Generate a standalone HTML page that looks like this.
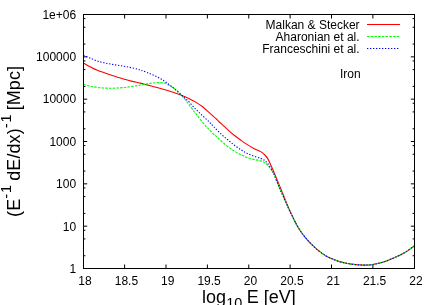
<!DOCTYPE html><html><head><meta charset="utf-8"><style>html,body{margin:0;padding:0;background:#fff;overflow:hidden}svg{display:block;will-change:transform}text{font-family:"Liberation Sans",sans-serif;fill:#000}</style></head><body>
<svg width="435" height="305" viewBox="0 0 435 305">
<rect width="435" height="305" fill="#fff"/>
<path d="M83.50,268.50v-4.0M83.50,14.50v4.0M124.62,268.50v-4.0M124.62,14.50v4.0M166.00,268.50v-4.0M166.00,14.50v4.0M207.38,268.50v-4.0M207.38,14.50v4.0M248.75,268.50v-4.0M248.75,14.50v4.0M290.12,268.50v-4.0M290.12,14.50v4.0M331.50,268.50v-4.0M331.50,14.50v4.0M372.88,268.50v-4.0M372.88,14.50v4.0M414.50,268.50v-4.0M414.50,14.50v4.0M83.50,268.50h3.7M414.50,268.50h-3.7M83.50,255.76h1.9M414.50,255.76h-1.9M83.50,238.91h1.9M414.50,238.91h-1.9M83.50,230.27h1.9M414.50,230.27h-1.9M83.50,226.17h3.7M414.50,226.17h-3.7M83.50,213.42h1.9M414.50,213.42h-1.9M83.50,196.58h1.9M414.50,196.58h-1.9M83.50,187.94h1.9M414.50,187.94h-1.9M83.50,183.83h3.7M414.50,183.83h-3.7M83.50,171.09h1.9M414.50,171.09h-1.9M83.50,154.24h1.9M414.50,154.24h-1.9M83.50,145.60h1.9M414.50,145.60h-1.9M83.50,141.50h3.7M414.50,141.50h-3.7M83.50,128.76h1.9M414.50,128.76h-1.9M83.50,111.91h1.9M414.50,111.91h-1.9M83.50,103.27h1.9M414.50,103.27h-1.9M83.50,99.17h3.7M414.50,99.17h-3.7M83.50,86.42h1.9M414.50,86.42h-1.9M83.50,69.58h1.9M414.50,69.58h-1.9M83.50,60.94h1.9M414.50,60.94h-1.9M83.50,56.83h3.7M414.50,56.83h-3.7M83.50,44.09h1.9M414.50,44.09h-1.9M83.50,27.24h1.9M414.50,27.24h-1.9M83.50,18.60h1.9M414.50,18.60h-1.9M83.50,14.50h3.7M414.50,14.50h-3.7" stroke="#000" stroke-width="1" fill="none"/>
<g fill="none" stroke-width="1.1" stroke-linejoin="round">
<path d="M83.50,63.30C83.65,63.35 83.33,63.05 84.40,63.60C85.47,64.15 87.83,65.53 89.90,66.60C91.97,67.67 94.50,69.00 96.80,70.00C99.10,71.00 101.40,71.77 103.70,72.60C106.00,73.43 108.30,74.23 110.60,75.00C112.90,75.77 115.20,76.50 117.50,77.20C119.80,77.90 122.10,78.55 124.40,79.20C126.70,79.85 129.00,80.52 131.30,81.10C133.60,81.68 136.37,82.28 138.20,82.70C140.03,83.12 140.85,83.23 142.30,83.60C143.75,83.97 144.98,84.38 146.90,84.90C148.82,85.42 151.50,86.10 153.80,86.70C156.10,87.30 158.40,87.87 160.70,88.50C163.00,89.13 165.30,89.80 167.60,90.50C169.90,91.20 172.12,91.88 174.50,92.70C176.88,93.52 179.52,94.45 181.90,95.40C184.28,96.35 186.50,97.28 188.80,98.40C191.10,99.52 193.40,100.70 195.70,102.10C198.00,103.50 200.30,105.02 202.60,106.80C204.90,108.58 207.20,110.77 209.50,112.80C211.80,114.83 214.77,117.47 216.40,119.00C218.03,120.53 218.15,120.90 219.30,122.00C220.45,123.10 221.92,124.33 223.30,125.60C224.68,126.87 225.73,127.95 227.60,129.60C229.47,131.25 232.20,133.67 234.50,135.50C236.80,137.33 239.33,139.12 241.40,140.60C243.47,142.08 244.83,143.10 246.90,144.40C248.97,145.70 251.50,147.20 253.80,148.40C256.10,149.60 258.87,150.50 260.70,151.60C262.53,152.70 263.65,153.87 264.80,155.00C265.95,156.13 266.68,156.90 267.60,158.40C268.52,159.90 269.38,162.03 270.30,164.00C271.22,165.97 272.22,168.17 273.10,170.20C273.98,172.23 274.57,173.70 275.60,176.20C276.63,178.70 278.08,182.23 279.30,185.20C280.52,188.17 281.77,191.22 282.90,194.00C284.03,196.78 285.00,199.23 286.10,201.90C287.20,204.57 288.25,207.18 289.50,210.00C290.75,212.82 292.35,216.23 293.60,218.80C294.85,221.37 295.83,223.33 297.00,225.40C298.17,227.47 299.42,229.43 300.60,231.20C301.78,232.97 302.93,234.50 304.10,236.00C305.27,237.50 306.30,238.75 307.60,240.20C308.90,241.65 310.03,242.92 311.90,244.70C313.77,246.48 316.50,249.07 318.80,250.90C321.10,252.73 323.40,254.33 325.70,255.70C328.00,257.07 330.30,258.12 332.60,259.10C334.90,260.08 337.20,260.90 339.50,261.60C341.80,262.30 344.10,262.83 346.40,263.30C348.70,263.77 351.00,264.13 353.30,264.40C355.60,264.67 358.27,264.78 360.20,264.90C362.13,265.02 362.97,265.13 364.90,265.10C366.83,265.07 369.50,265.00 371.80,264.70C374.10,264.40 376.40,263.88 378.70,263.30C381.00,262.72 383.30,262.02 385.60,261.20C387.90,260.38 390.20,259.37 392.50,258.40C394.80,257.43 397.10,256.53 399.40,255.40C401.70,254.27 404.00,253.05 406.30,251.60C408.60,250.15 411.83,247.67 413.20,246.70C414.57,245.73 414.28,245.95 414.50,245.80" stroke="#ff0000"/>
<path d="M83.50,84.30C83.65,84.33 83.33,84.20 84.40,84.50C85.47,84.80 87.83,85.63 89.90,86.10C91.97,86.57 94.50,86.98 96.80,87.30C99.10,87.62 101.40,87.85 103.70,88.00C106.00,88.15 108.30,88.20 110.60,88.20C112.90,88.20 115.20,88.12 117.50,88.00C119.80,87.88 122.10,87.73 124.40,87.50C126.70,87.27 129.00,86.93 131.30,86.60C133.60,86.27 136.37,85.82 138.20,85.50C140.03,85.18 140.85,84.97 142.30,84.70C143.75,84.43 145.62,84.13 146.90,83.90C148.18,83.67 148.57,83.50 150.00,83.30C151.43,83.10 153.97,82.82 155.50,82.70C157.03,82.58 157.82,82.55 159.20,82.60C160.58,82.65 162.27,82.62 163.80,83.00C165.33,83.38 166.87,84.13 168.40,84.90C169.93,85.67 171.47,86.55 173.00,87.60C174.53,88.65 176.07,89.83 177.60,91.20C179.13,92.57 180.82,94.27 182.20,95.80C183.58,97.33 184.80,98.97 185.90,100.40C187.00,101.83 187.55,102.72 188.80,104.40C190.05,106.08 192.22,108.97 193.40,110.50C194.58,112.03 195.07,112.53 195.90,113.60C196.73,114.67 197.02,115.12 198.40,116.90C199.78,118.68 202.52,122.30 204.20,124.30C205.88,126.30 206.97,127.28 208.50,128.90C210.03,130.52 211.95,132.62 213.40,134.00C214.85,135.38 215.03,135.28 217.20,137.20C219.37,139.12 223.33,143.05 226.40,145.50C229.47,147.95 232.85,150.22 235.60,151.90C238.35,153.58 241.02,154.67 242.90,155.60C244.78,156.53 245.08,156.87 246.90,157.50C248.72,158.13 251.50,158.83 253.80,159.40C256.10,159.97 258.87,160.37 260.70,160.90C262.53,161.43 263.65,161.92 264.80,162.60C265.95,163.28 266.68,164.00 267.60,165.00C268.52,166.00 269.57,167.60 270.30,168.60C271.03,169.60 271.53,170.32 272.00,171.00C272.47,171.68 272.63,171.80 273.10,172.70C273.57,173.60 273.90,174.25 274.80,176.40C275.70,178.55 277.27,182.63 278.50,185.60C279.73,188.57 281.00,191.47 282.20,194.20C283.40,196.93 284.52,199.37 285.70,202.00C286.88,204.63 287.98,207.20 289.30,210.00C290.62,212.80 292.32,216.23 293.60,218.80C294.88,221.37 295.83,223.33 297.00,225.40C298.17,227.47 299.42,229.43 300.60,231.20C301.78,232.97 302.93,234.50 304.10,236.00C305.27,237.50 306.30,238.75 307.60,240.20C308.90,241.65 310.03,242.92 311.90,244.70C313.77,246.48 316.50,249.07 318.80,250.90C321.10,252.73 323.40,254.33 325.70,255.70C328.00,257.07 330.30,258.12 332.60,259.10C334.90,260.08 337.20,260.90 339.50,261.60C341.80,262.30 344.10,262.83 346.40,263.30C348.70,263.77 351.00,264.13 353.30,264.40C355.60,264.67 358.27,264.78 360.20,264.90C362.13,265.02 362.97,265.13 364.90,265.10C366.83,265.07 369.50,265.00 371.80,264.70C374.10,264.40 376.40,263.88 378.70,263.30C381.00,262.72 383.30,262.02 385.60,261.20C387.90,260.38 390.20,259.37 392.50,258.40C394.80,257.43 397.10,256.53 399.40,255.40C401.70,254.27 404.00,253.05 406.30,251.60C408.60,250.15 411.83,247.67 413.20,246.70C414.57,245.73 414.28,245.95 414.50,245.80" stroke="#00ff00" stroke-dasharray="2.5 1.2"/>
<path d="M83.50,55.50C83.65,55.55 83.33,55.38 84.40,55.80C85.47,56.22 87.83,57.17 89.90,58.00C91.97,58.83 94.50,60.02 96.80,60.80C99.10,61.58 101.40,62.15 103.70,62.70C106.00,63.25 108.30,63.68 110.60,64.10C112.90,64.52 115.20,64.83 117.50,65.20C119.80,65.57 122.10,65.88 124.40,66.30C126.70,66.72 129.00,67.20 131.30,67.70C133.60,68.20 136.52,68.85 138.20,69.30C139.88,69.75 139.95,69.88 141.40,70.40C142.85,70.92 144.83,71.57 146.90,72.40C148.97,73.23 151.50,74.33 153.80,75.40C156.10,76.47 158.40,77.47 160.70,78.80C163.00,80.13 165.30,81.72 167.60,83.40C169.90,85.08 172.12,86.88 174.50,88.90C176.88,90.92 179.52,93.37 181.90,95.50C184.28,97.63 186.50,99.43 188.80,101.70C191.10,103.97 193.40,106.75 195.70,109.10C198.00,111.45 200.30,113.62 202.60,115.80C204.90,117.98 207.63,120.37 209.50,122.20C211.37,124.03 211.93,124.88 213.80,126.80C215.67,128.72 218.40,131.55 220.70,133.70C223.00,135.85 225.30,137.77 227.60,139.70C229.90,141.63 232.20,143.58 234.50,145.30C236.80,147.02 239.33,148.67 241.40,150.00C243.47,151.33 244.83,152.28 246.90,153.30C248.97,154.32 251.50,155.25 253.80,156.10C256.10,156.95 258.87,157.67 260.70,158.40C262.53,159.13 263.65,159.68 264.80,160.50C265.95,161.32 266.68,162.15 267.60,163.30C268.52,164.45 269.38,165.92 270.30,167.40C271.22,168.88 272.33,170.70 273.10,172.20C273.87,173.70 274.00,174.17 274.90,176.40C275.80,178.63 277.28,182.63 278.50,185.60C279.72,188.57 281.00,191.47 282.20,194.20C283.40,196.93 284.52,199.37 285.70,202.00C286.88,204.63 287.98,207.20 289.30,210.00C290.62,212.80 292.32,216.23 293.60,218.80C294.88,221.37 295.83,223.33 297.00,225.40C298.17,227.47 299.42,229.43 300.60,231.20C301.78,232.97 302.93,234.50 304.10,236.00C305.27,237.50 306.30,238.75 307.60,240.20C308.90,241.65 310.03,242.92 311.90,244.70C313.77,246.48 316.50,249.07 318.80,250.90C321.10,252.73 323.40,254.33 325.70,255.70C328.00,257.07 330.30,258.12 332.60,259.10C334.90,260.08 337.20,260.90 339.50,261.60C341.80,262.30 344.10,262.83 346.40,263.30C348.70,263.77 351.00,264.13 353.30,264.40C355.60,264.67 358.27,264.78 360.20,264.90C362.13,265.02 362.97,265.13 364.90,265.10C366.83,265.07 369.50,265.00 371.80,264.70C374.10,264.40 376.40,263.88 378.70,263.30C381.00,262.72 383.30,262.02 385.60,261.20C387.90,260.38 390.20,259.37 392.50,258.40C394.80,257.43 397.10,256.53 399.40,255.40C401.70,254.27 404.00,253.05 406.30,251.60C408.60,250.15 411.83,247.67 413.20,246.70C414.57,245.73 414.28,245.95 414.50,245.80" stroke="#0000ff" stroke-dasharray="1.3 1.7"/>
<path d="M367,24.5H400" stroke="#ff0000"/>
<path d="M367,36.5H400" stroke="#00ff00" stroke-dasharray="2.5 1.2"/>
<path d="M367,48.5H400" stroke="#0000ff" stroke-dasharray="1.3 1.7"/>
</g>
<rect x="83.5" y="14.5" width="331" height="254" fill="none" stroke="#000" stroke-width="1" shape-rendering="crispEdges"/>
<g font-size="12px" text-anchor="end">
<text x="359.6" y="28.8">Malkan &amp; Stecker</text>
<text x="359.6" y="40.8">Aharonian et al.</text>
<text x="359.6" y="52.8">Franceschini et al.</text>
<text x="76.1" y="273">1</text>
<text x="76.1" y="231">10</text>
<text x="76.1" y="188">100</text>
<text x="76.1" y="146">1000</text>
<text x="76.1" y="103">10000</text>
<text x="76.1" y="61">100000</text>
<text x="76.1" y="19">1e+06</text>
</g>
<g font-size="12px" text-anchor="middle">
<text x="85.0" y="285.0">18</text>
<text x="126.4" y="285.0">18.5</text>
<text x="167.8" y="285.0">19</text>
<text x="209.1" y="285.0">19.5</text>
<text x="250.5" y="285.0">20</text>
<text x="291.9" y="285.0">20.5</text>
<text x="333.2" y="285.0">21</text>
<text x="374.6" y="285.0">21.5</text>
<text x="416.0" y="285.0">22</text>
</g>
<text x="340" y="77.6" font-size="12px">Iron</text>
<text x="202" y="302.8" font-size="18px">log<tspan font-size="14.4px" dx="0.2" dy="5.2">10</tspan><tspan dy="-5.2" dx="-0.4"> E [eV]</tspan></text>
<text transform="translate(20.3,216.9) rotate(-90)" font-size="18px" letter-spacing="0.07">(E<tspan font-size="14.4px" dy="-9">-<tspan dx="0.8">1</tspan></tspan><tspan dy="9" dx="-0.8"> dE/dx)</tspan><tspan font-size="14.4px" dy="-9">-<tspan dx="0.8">1</tspan></tspan><tspan dy="9" dx="-0.8"> [Mpc]</tspan></text>
</svg></body></html>
